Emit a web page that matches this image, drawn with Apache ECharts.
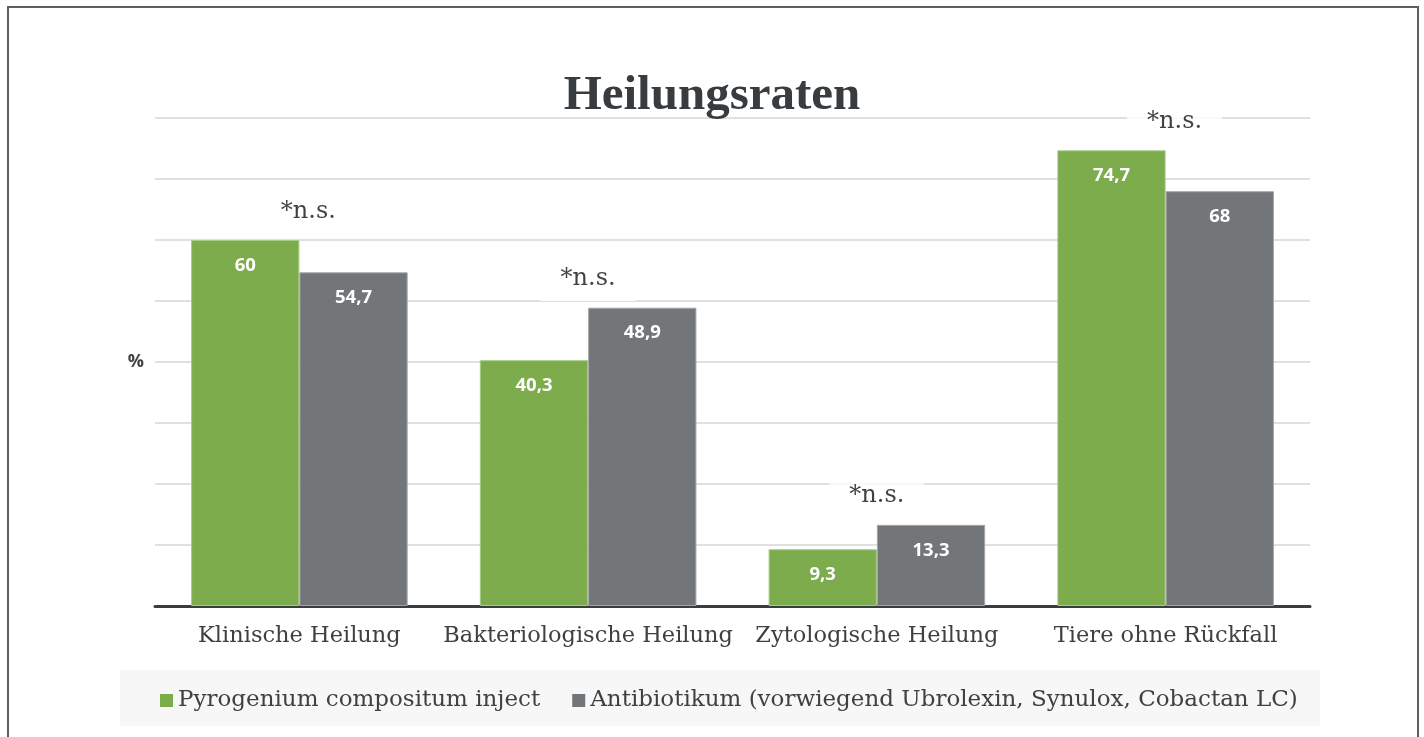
<!DOCTYPE html>
<html>
<head>
<meta charset="utf-8">
<script src="https://cdn.jsdelivr.net/npm/echarts@6/dist/echarts.min.js"></script>
<style>html,body{margin:0;padding:0;background:#fff;}#c{width:1424px;height:737px;}</style>
</head>
<body>
<div id="c"></div>
<script>
const categories = ['Klinische Heilung', 'Bakteriologische Heilung', 'Zytologische Heilung', 'Tiere ohne Rückfall'];
const seriesNames = ['Pyrogenium compositum inject', 'Antibiotikum (vorwiegend Ubrolexin, Synulox, Cobactan LC)'];
const pyrogenium = [60, 40.3, 9.3, 74.7];
const antibiotikum = [54.7, 48.9, 13.3, 68];
const annotations = ['*n.s.', '*n.s.', '*n.s.', '*n.s.'];
const yAxisName = '%';
const titleText = 'Heilungsraten';

const fmt = v => String(v).replace('.', ',');
const annOffset = 4.7;
const annShift = [9, 0, 0, 9];
const annData = categories.map((c, i) => ({
  value: [c, Math.max(pyrogenium[i], antibiotikum[i]) + annOffset],
  name: annotations[i],
  label: { offset: [annShift[i], 0] }
}));

const chart = echarts.init(document.getElementById('c'));
const valLabel = {
  show: true, position: 'insideTop', distance: 16,
  color: '#fff', fontFamily: 'Open Sans', fontWeight: 'bold', fontSize: 18.5,
  formatter: p => fmt(p.value)
};
chart.setOption({
  animation: false,
  title: {
    text: titleText, left: 'center', top: 67,
    textStyle: { fontFamily: 'Liberation Serif', fontWeight: 'bold', fontSize: 49, color: '#383c3f' }
  },
  graphic: [
    { type: 'rect', z: -10, shape: { x: 8, y: 7, width: 1410, height: 760 }, style: { fill: 'none', stroke: '#5f5f5f', lineWidth: 2 } },
    { type: 'rect', z: -10, shape: { x: 120, y: 670, width: 1200, height: 56 }, style: { fill: '#f7f7f7' } }
  ],
  legend: {
    data: seriesNames, left: 155, top: 684, icon: 'rect', itemWidth: 13, itemHeight: 13, itemGap: 32,
    itemStyle: { borderWidth: 0 },
    textStyle: { fontFamily: 'DejaVu Serif', fontSize: 23, color: '#404040' }
  },
  grid: { left: 155, right: 114, top: 118, bottom: 131 },
  xAxis: {
    type: 'category', data: categories,
    axisLine: { lineStyle: { color: '#3a3d40', width: 3 } },
    axisTick: { show: false },
    axisLabel: { interval: 0, margin: 19, fontFamily: 'DejaVu Serif', fontSize: 22.5, color: '#404040' }
  },
  yAxis: {
    type: 'value', min: 0, max: 80, interval: 10,
    name: yAxisName, nameLocation: 'middle', nameGap: 11, nameRotate: 0,
    nameTextStyle: { fontFamily: 'Open Sans', fontWeight: 'bold', fontSize: 18, color: '#404040' },
    axisLabel: { show: false }, axisLine: { show: false }, axisTick: { show: false },
    splitLine: { lineStyle: { color: '#d6d6d6', width: 1.5 } }
  },
  series: [
    { name: seriesNames[0], type: 'bar', data: pyrogenium, barGap: '0%', barCategoryGap: '25%',
      itemStyle: { color: '#7dac4c', borderColor: '#a6cc86', borderWidth: 1 }, label: valLabel },
    { name: seriesNames[1], type: 'bar', data: antibiotikum,
      itemStyle: { color: '#737679', borderColor: '#a3a5a7', borderWidth: 1 }, label: valLabel },
    { type: 'scatter', data: annData, symbolSize: 1, itemStyle: { color: 'rgba(0,0,0,0)' }, z: 5,
      label: { show: true, position: 'inside', formatter: p => p.name,
        fontFamily: 'DejaVu Serif', fontSize: 24, color: '#111', backgroundColor: '#fff', padding: [10, 20] } }
  ]
});
</script>
</body>
</html>
